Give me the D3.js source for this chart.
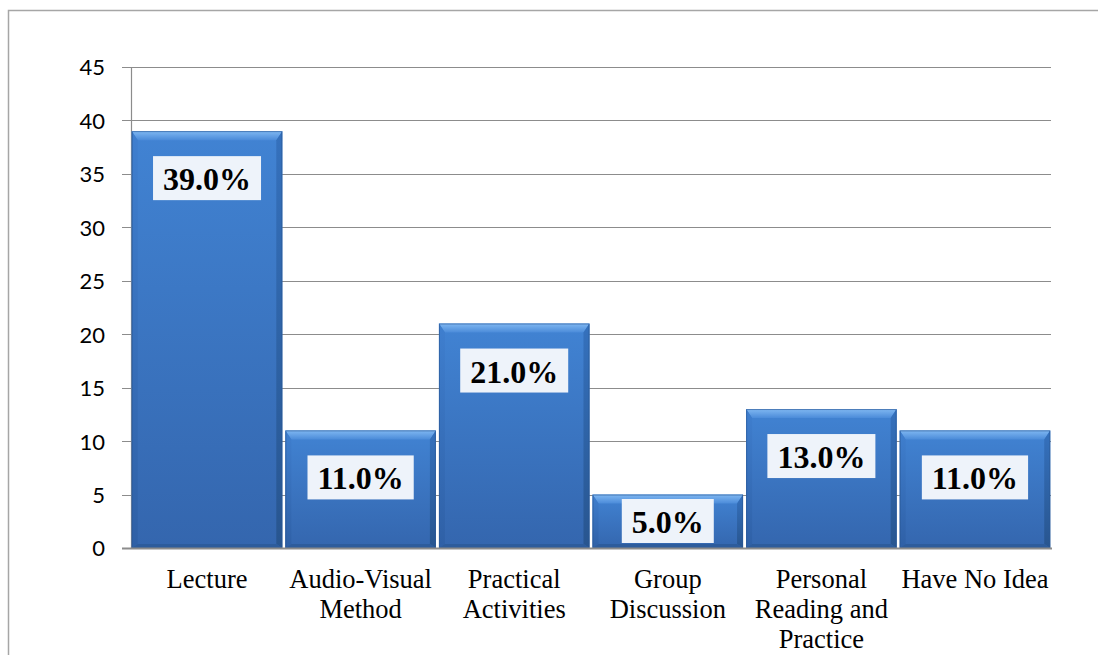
<!DOCTYPE html>
<html>
<head>
<meta charset="utf-8">
<script src="https://cdn.jsdelivr.net/npm/d3@7"></script>
<style>
  html, body { margin: 0; padding: 0; background: #fff; }
  svg { display: block; }
</style>
</head>
<body>
<svg id="chart" width="1098" height="655"></svg>
<script>
// ---- data ----
const categories = ["Lecture", "Audio-Visual Method", "Practical Activities", "Group Discussion", "Personal Reading and Practice", "Have No Idea"];
const tickLabelLines = [["Lecture"], ["Audio-Visual", "Method"], ["Practical", "Activities"], ["Group", "Discussion"], ["Personal", "Reading and", "Practice"], ["Have No Idea"]];
const values = [39, 11, 21, 5, 13, 11];
const valueLabels = ["39.0%", "11.0%", "21.0%", "5.0%", "13.0%", "11.0%"];
const yTicks = [0, 5, 10, 15, 20, 25, 30, 35, 40, 45];

// ---- layout ----
const svg = d3.select("#chart");
const plotLeft = 131, plotRight = 1051, plotTop = 67, plotBottom = 548;

const x = d3.scaleBand().domain(categories).range([plotLeft, plotRight]).paddingInner(0.02).paddingOuter(0.005);
const y = d3.scaleLinear().domain([0, 45]).range([plotBottom, plotTop]);

// outer border (top & left visible)
svg.append("path")
  .attr("d", `M8.5,655 L8.5,10.5 L1098,10.5`)
  .attr("fill", "none").attr("stroke", "#a6a6a6").attr("stroke-width", 1.5);

// defs: gradients
const defs = svg.append("defs");
const face = defs.append("linearGradient").attr("id", "face").attr("x1", 0).attr("y1", 0).attr("x2", 0).attr("y2", 1);
face.append("stop").attr("offset", "0%").attr("stop-color", "#4183d3");
face.append("stop").attr("offset", "100%").attr("stop-color", "#3466ae");
const topG = defs.append("linearGradient").attr("id", "topbev").attr("x1", 0).attr("y1", 0).attr("x2", 0).attr("y2", 1);
topG.append("stop").attr("offset", "0%").attr("stop-color", "#80b8f2");
topG.append("stop").attr("offset", "100%").attr("stop-color", "#4b8bd9");
const leftG = defs.append("linearGradient").attr("id", "leftbev").attr("x1", 0).attr("y1", 0).attr("x2", 0).attr("y2", 1);
leftG.append("stop").attr("offset", "0%").attr("stop-color", "#3f7fcf");
leftG.append("stop").attr("offset", "100%").attr("stop-color", "#2f60a6");
const rightG = defs.append("linearGradient").attr("id", "rightbev").attr("x1", 0).attr("y1", 0).attr("x2", 0).attr("y2", 1);
rightG.append("stop").attr("offset", "0%").attr("stop-color", "#3571bd");
rightG.append("stop").attr("offset", "100%").attr("stop-color", "#28558f");

// gridlines
const yAxis = d3.axisLeft(y).tickValues(yTicks).tickSize(0).tickFormat(d3.format("d"));
svg.append("g").selectAll("line.grid").data(yTicks).join("line")
  .attr("x1", plotLeft - 9).attr("x2", plotRight)
  .attr("y1", d => Math.round(y(d)) + 0.5).attr("y2", d => Math.round(y(d)) + 0.5)
  .attr("stroke", "#8c8c8c").attr("stroke-width", 1);

// y axis labels
const gy = svg.append("g").attr("transform", `translate(${plotLeft},0)`).call(yAxis);
gy.select(".domain").attr("stroke", "#8c8c8c").attr("stroke-width", 1.2);
gy.selectAll("text").attr("x", -26).attr("dy", "0.36em")
  .attr("font-family", "Lato, 'Liberation Sans', sans-serif").attr("font-size", 22).attr("fill", "#000");

// bars with bevel
const bars = svg.append("g");
values.forEach((v, i) => {
  const x0 = x(categories[i]), x1 = x0 + x.bandwidth();
  const y0 = y(v), y1 = y(0);
  const g = bars.append("g");
  const bt = 9, bs = 6, bb = 4;
  g.append("rect").attr("x", x0).attr("y", y0).attr("width", x1 - x0).attr("height", y1 - y0).attr("fill", "url(#face)");
  g.append("polygon").attr("points", [[x0, y0], [x1, y0], [x1 - bs, y0 + bt], [x0 + bs, y0 + bt]].map(p => p.join(",")).join(" "))
    .attr("fill", "url(#topbev)");
  g.append("polygon").attr("points", [[x0, y0], [x0 + bs, y0 + bt], [x0 + bs, y1 - bb], [x0, y1]].map(p => p.join(",")).join(" "))
    .attr("fill", "url(#leftbev)");
  g.append("polygon").attr("points", [[x1, y0], [x1 - bs, y0 + bt], [x1 - bs, y1 - bb], [x1, y1]].map(p => p.join(",")).join(" "))
    .attr("fill", "url(#rightbev)");
  g.append("polygon").attr("points", [[x0, y1], [x0 + bs, y1 - bb], [x1 - bs, y1 - bb], [x1, y1]].map(p => p.join(",")).join(" "))
    .attr("fill", "#2d5c9c");
  g.append("rect").attr("x", x0 + 0.5).attr("y", y0 + 0.5).attr("width", x1 - x0 - 1).attr("height", y1 - y0 - 1)
    .attr("fill", "none").attr("stroke", "#2a5794").attr("stroke-opacity", 0.6).attr("stroke-width", 1);
});

// x axis baseline
svg.append("line").attr("x1", plotLeft - 9).attr("x2", plotRight + 1)
  .attr("y1", plotBottom + 0.5).attr("y2", plotBottom + 0.5)
  .attr("stroke", "#8c8c8c").attr("stroke-width", 2);

// value labels with boxes
const labels = svg.append("g");
values.forEach((v, i) => {
  const cx = x(categories[i]) + x.bandwidth() / 2;
  const boxH = 44;
  let top = y(v) + 25;
  if (top + boxH > plotBottom - 5) top = plotBottom - 5 - boxH;
  const g = labels.append("g");
  const rect = g.append("rect").attr("fill", "#eef3fa");
  const t = g.append("text").text(valueLabels[i])
    .attr("x", cx).attr("y", top + 34).attr("text-anchor", "middle")
    .attr("font-family", "'Liberation Serif', 'Times New Roman', serif").attr("font-weight", "bold")
    .attr("font-size", 32).attr("fill", "#000");
  const w = t.node().getComputedTextLength() + 20;
  rect.attr("x", cx - w / 2).attr("y", top).attr("width", w).attr("height", boxH);
});

// x tick labels
const gx = svg.append("g");
categories.forEach((c, i) => {
  const cx = x(c) + x.bandwidth() / 2;
  const t = gx.append("text").attr("text-anchor", "middle")
    .attr("font-family", "'Liberation Serif', 'Times New Roman', serif").attr("font-size", 26.5).attr("fill", "#000");
  tickLabelLines[i].forEach((line, j) => {
    t.append("tspan").attr("x", cx).attr("y", 588 + j * 30).text(line);
  });
});
</script>
</body>
</html>
